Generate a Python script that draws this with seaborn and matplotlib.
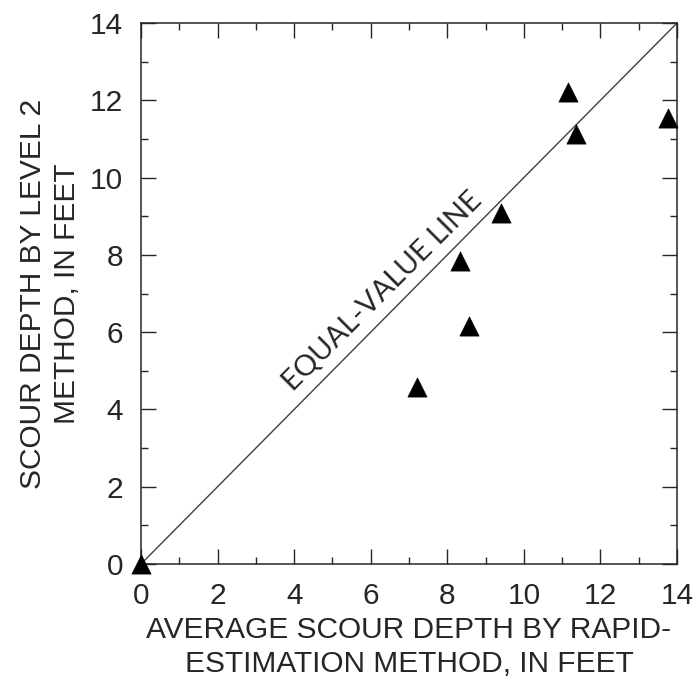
import numpy as np
import pandas as pd
import seaborn as sns
import matplotlib.pyplot as plt
from matplotlib.ticker import MultipleLocator

# rapid-estimation (x) vs level 2 (y) scour depths, feet
rapid = [0.0, 7.2, 8.32, 8.57, 9.4, 11.15, 11.36, 13.77]
level2 = [0.0, 4.58, 7.84, 6.16, 9.08, 12.21, 11.14, 11.53]
ticks = [0, 2, 4, 6, 8, 10, 12, 14]

data = pd.DataFrame({'rapid': rapid, 'level2': level2})

sns.set_style('ticks')
plt.rcParams['font.family'] = ['Liberation Sans', 'DejaVu Sans']

fig = plt.figure(figsize=(6.96, 6.81), dpi=100)
ax = fig.add_axes([0.2026, 0.1718, 0.9727 - 0.2026, 0.9662 - 0.1718])

# equal-value line
ax.plot([0, 14], [0, 14], color='0.25', lw=1.0, zorder=1)

sns.scatterplot(x='rapid', y='level2', data=data, marker='^', s=190,
                color='black', edgecolor='black', linewidth=0.5, ax=ax,
                clip_on=False, zorder=3, legend=False)

ax.set_xlim(0, 14)
ax.set_ylim(0, 14)
ax.set_xticks(ticks)
ax.set_yticks(ticks)
ax.xaxis.set_minor_locator(MultipleLocator(1))
ax.yaxis.set_minor_locator(MultipleLocator(1))
ax.tick_params(which='both', direction='in', top=True, right=True,
               color='0.15', width=1.0)
ax.tick_params(which='major', length=11, labelsize=21.5, pad=13)
ax.tick_params(which='minor', length=5)
for sp in ax.spines.values():
    sp.set_linewidth(1.1)
    sp.set_color('0.15')

ax.set_xlabel('AVERAGE SCOUR DEPTH BY RAPID-\nESTIMATION METHOD, IN FEET',
              fontsize=21.5, linespacing=1.3, labelpad=4)
ax.set_ylabel('SCOUR DEPTH BY LEVEL 2\nMETHOD, IN FEET',
              fontsize=21.5, linespacing=1.3, labelpad=6)

ax.text(6.3, 7.05, 'EQUAL-VALUE LINE', rotation=45, rotation_mode='anchor',
        ha='center', va='center', fontsize=21, family=['Lato', 'DejaVu Sans'])

fig.savefig('out.png', dpi=100)
